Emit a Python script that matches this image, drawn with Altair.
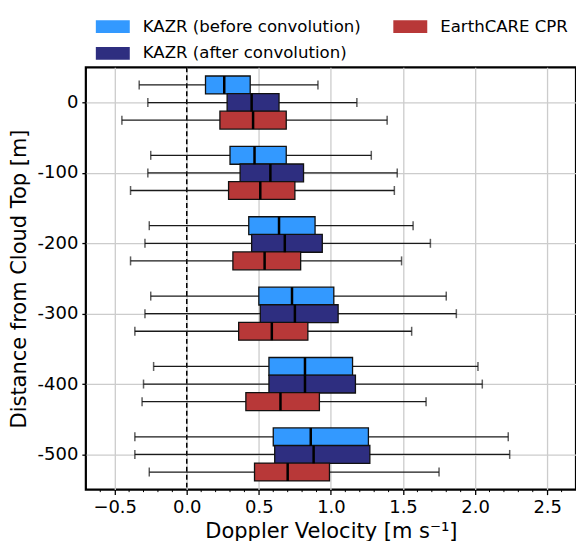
import altair as alt
import pandas as pd

distances = [0, -100, -200, -300, -400, -500]
series_names = ["KAZR (before convolution)", "KAZR (after convolution)", "EarthCARE CPR"]
colors = ["#3399FF", "#2E2E80", "#B83838"]

before_lo = [-0.33, -0.25, -0.26, -0.25, -0.23, -0.36]
before_q1 = [0.13, 0.30, 0.43, 0.50, 0.57, 0.60]
before_med = [0.26, 0.47, 0.64, 0.73, 0.82, 0.86]
before_q3 = [0.44, 0.69, 0.89, 1.02, 1.15, 1.26]
before_hi = [0.91, 1.28, 1.57, 1.80, 2.02, 2.23]

after_lo = [-0.27, -0.27, -0.29, -0.29, -0.30, -0.36]
after_q1 = [0.28, 0.37, 0.45, 0.51, 0.57, 0.61]
after_med = [0.45, 0.58, 0.68, 0.75, 0.82, 0.88]
after_q3 = [0.64, 0.81, 0.94, 1.05, 1.17, 1.27]
after_hi = [1.18, 1.46, 1.69, 1.87, 2.05, 2.24]

cpr_lo = [-0.45, -0.39, -0.39, -0.36, -0.31, -0.26]
cpr_q1 = [0.23, 0.29, 0.32, 0.36, 0.41, 0.47]
cpr_med = [0.46, 0.51, 0.54, 0.59, 0.65, 0.70]
cpr_q3 = [0.69, 0.75, 0.79, 0.84, 0.92, 0.99]
cpr_hi = [1.39, 1.44, 1.49, 1.56, 1.66, 1.75]

x_major = [-0.5, 0.0, 0.5, 1.0, 1.5, 2.0, 2.5]
x_minor = [-0.6, -0.4, -0.3, -0.2, -0.1, 0.1, 0.2, 0.3, 0.4, 0.6, 0.7, 0.8, 0.9,
           1.1, 1.2, 1.3, 1.4, 1.6, 1.7, 1.8, 1.9, 2.1, 2.2, 2.3, 2.4, 2.6]
y_ticks = [0, -100, -200, -300, -400, -500]

offsets = {series_names[0]: 25, series_names[1]: 0, series_names[2]: -25}
half = 12.7

stats = {
    series_names[0]: (before_lo, before_q1, before_med, before_q3, before_hi),
    series_names[1]: (after_lo, after_q1, after_med, after_q3, after_hi),
    series_names[2]: (cpr_lo, cpr_q1, cpr_med, cpr_q3, cpr_hi),
}

rows = []
for s in series_names:
    lo, q1, med, q3, hi = stats[s]
    for i, d in enumerate(distances):
        c = d + offsets[s]
        rows.append(dict(series=s, dist=d, pos=c, pos_lo=c - half, pos_hi=c + half,
                         lo=lo[i], q1=q1[i], med=med[i], q3=q3[i], hi=hi[i]))
df = pd.DataFrame(rows)

W, H = 491, 423
FONT = "DejaVu Sans"

xscale = alt.Scale(domain=[-0.7, 2.7], nice=False, zero=False)
yscale = alt.Scale(domain=[-550, 50], nice=False, zero=False)

base = alt.Chart(df)

xaxis = alt.Axis(values=x_major, grid=True, gridColor="#cccccc", gridWidth=1.3,
                 tickColor="black", tickSize=5, tickWidth=1.3, domain=False,
                 labelFontSize=18, labelColor="black", labelPadding=4,
                 labelExpr="replace(format(datum.value, '.1f'), '-', '\u2212')",
                 title="Doppler Velocity [m s\u207b\u00b9]", titleFontSize=21,
                 titleFontWeight="normal", titleColor="black", titlePadding=4)
yaxis = alt.Axis(values=y_ticks, grid=True, gridColor="#cccccc", gridWidth=1.3,
                 tickColor="black", tickSize=4, tickWidth=1.3, domain=False,
                 labelFontSize=18, labelColor="black", labelPadding=4,
                 labelExpr="toString(datum.value)",
                 title="Distance from Cloud Top [m]", titleFontSize=21,
                 titleFontWeight="normal", titleColor="black", titlePadding=8)

zero_line = alt.Chart(pd.DataFrame({"x": [0.0]})).mark_rule(
    color="black", strokeWidth=1.5, strokeDash=[5, 3]
).encode(x=alt.X("x:Q", scale=xscale, axis=xaxis), y=alt.value(0), y2=alt.value(H))

whisk = base.mark_rule(color="#1a1a1a", strokeWidth=1.3).encode(
    x=alt.X("lo:Q", scale=xscale), x2="hi:Q", y=alt.Y("pos:Q", scale=yscale, axis=yaxis))

cap_lo = base.mark_tick(color="#1a1a1a", orient="vertical", size=9, thickness=1.5).encode(
    x=alt.X("lo:Q", scale=xscale), y=alt.Y("pos:Q", scale=yscale))
cap_hi = base.mark_tick(color="#1a1a1a", orient="vertical", size=9, thickness=1.5).encode(
    x=alt.X("hi:Q", scale=xscale), y=alt.Y("pos:Q", scale=yscale))

boxes = base.mark_rect(stroke="#111111", strokeWidth=1.3, opacity=1).encode(
    x=alt.X("q1:Q", scale=xscale), x2="q3:Q",
    y=alt.Y("pos_lo:Q", scale=yscale), y2="pos_hi:Q",
    color=alt.Color("series:N", scale=alt.Scale(domain=series_names, range=colors),
                    legend=alt.Legend(title=None, orient="none", legendX=10, legendY=-58,
                                      columns=2, columnPadding=32, rowPadding=1,
                                      symbolType="M-1,-0.38H1V0.38H-1Z", symbolSize=1156,
                                      symbolStrokeWidth=0, labelFontSize=16.6, labelLimit=0,
                                      labelOffset=13, labelColor="black", labelFont=FONT,
                                      symbolOpacity=1)))

medians = base.mark_rule(color="black", strokeWidth=2.5).encode(
    x=alt.X("med:Q", scale=xscale), y=alt.Y("pos_lo:Q", scale=yscale), y2="pos_hi:Q")

minor = alt.Chart(pd.DataFrame({"m": x_minor})).mark_rule(color="black", strokeWidth=1).encode(
    x=alt.X("m:Q", scale=xscale), y=alt.value(H), y2=alt.value(H + 2.5))

chart = alt.layer(zero_line, whisk, cap_lo, cap_hi, boxes, medians, minor).properties(
    width=W, height=H,
    padding={"left": 86, "top": 67, "right": 0, "bottom": 51},
    autosize=alt.AutoSizeParams(type="none"),
).configure(font=FONT).configure_view(stroke="black", strokeWidth=2.2)

chart.save("out.html", embed_options={"renderer": "svg", "actions": False})
